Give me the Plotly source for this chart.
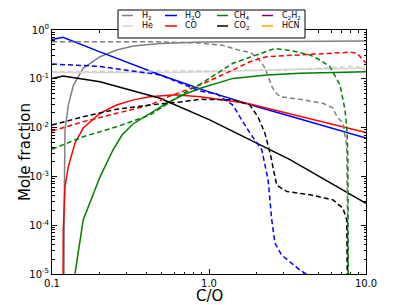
import plotly.graph_objects as go

# ---------------- data ----------------
h2_co = [0.1185, 0.1187, 0.1197, 0.121, 0.127, 0.137, 0.158, 0.202, 0.258, 0.33, 0.487, 0.88, 10]
h2_y = [1e-7, 1e-5, 3.3e-4, 0.0089, 0.029, 0.0746, 0.164, 0.284, 0.389, 0.47, 0.53, 0.57, 0.595]

h2d_co = [0.1, 0.453, 0.88, 1.21, 1.53, 1.82, 2.05, 2.24, 2.38, 2.48, 2.63, 2.83, 3.80, 5.32, 6.17, 6.53, 7.14, 7.35, 7.54, 7.7, 7.75]
h2d_y = [0.575, 0.575, 0.54, 0.49, 0.39, 0.35, 0.263, 0.18, 0.114, 0.075, 0.054, 0.043, 0.038, 0.0315, 0.025, 0.0167, 0.0123, 0.0065, 0.0041, 1e-5, 1e-7]

he_co = [0.1, 0.5, 1, 3, 10]
he_y = [0.135, 0.135, 0.14, 0.155, 0.165]
hed_co = [0.1, 1, 3, 5, 8, 9, 10]
hed_y = [0.14, 0.145, 0.15, 0.165, 0.18, 0.175, 0.15]

h2o_co = [0.1, 0.1175, 0.2, 0.49, 1.0, 2.0, 3.8, 10]
h2o_y = [0.64, 0.71, 0.36, 0.12, 0.054, 0.027, 0.015, 0.0061]
h2od_co = [0.1, 0.2, 0.49, 0.88, 1.12, 1.42, 1.57, 1.82, 2.17, 2.38, 2.51, 2.63, 2.90, 3.80, 4.40, 5.0]
h2od_y = [0.2, 0.18, 0.12, 0.056, 0.049, 0.029, 0.0167, 0.0078, 0.0035, 8.4e-4, 1.28e-4, 4.3e-5, 2.45e-5, 1.2e-5, 9e-6, 6e-6]

co_co = [0.1168, 0.117, 0.118, 0.121, 0.127, 0.140, 0.158, 0.202, 0.258, 0.33, 0.42, 0.607, 0.877, 1.74, 10]
co_y = [1e-7, 1e-5, 8e-5, 6.2e-4, 1.58e-3, 4.8e-3, 0.0098, 0.0196, 0.029, 0.037, 0.043, 0.047, 0.043, 0.0315, 0.0079]
cod_co = [0.1, 0.158, 0.258, 0.42, 0.58, 0.88, 1.42, 1.82, 2.33, 3.80, 6.17, 7.9, 8.77, 9.86, 10]
cod_y = [0.0085, 0.0132, 0.0196, 0.029, 0.046, 0.075, 0.151, 0.224, 0.284, 0.31, 0.333, 0.35, 0.333, 0.224, 0.21]

ch4_co = [0.139, 0.140, 0.158, 0.202, 0.2446, 0.2792, 0.328, 0.42, 0.538, 0.686, 0.88, 1.42, 2.33, 3.8, 10]
ch4_y = [1e-7, 1e-5, 1.28e-4, 9.7e-4, 3.47e-3, 7.05e-3, 0.01186, 0.0196, 0.0316, 0.047, 0.064, 0.102, 0.12, 0.13, 0.14]
ch4d_co = [0.1, 0.158, 0.258, 0.42, 0.686, 0.88, 1.42, 1.82, 2.18, 2.63, 3.43, 4.40, 5.09, 5.90, 6.83, 7.35, 7.57, 7.67, 7.74, 7.75]
ch4d_y = [0.0036, 0.0065, 0.0104, 0.018, 0.05, 0.078, 0.208, 0.28, 0.338, 0.418, 0.371, 0.307, 0.243, 0.177, 0.0746, 0.023, 0.0089, 0.0022, 1e-5, 1e-7]

co2_co = [0.1, 0.1175, 0.202, 0.314, 0.487, 1.01, 1.36, 3.28, 10]
co2_y = [0.101, 0.114, 0.087, 0.059, 0.040, 0.0144, 0.0089, 0.0022, 2.8e-4]
co2d_co = [0.1, 0.158, 0.258, 0.42, 0.68, 0.88, 1.42, 1.82, 2.05, 2.27, 2.45, 2.70, 3.13, 4.40, 6.17, 7.14, 7.54, 7.67, 7.70]
co2d_y = [0.0113, 0.0167, 0.0237, 0.029, 0.034, 0.038, 0.037, 0.029, 0.0167, 0.0077, 0.003, 6.6e-4, 4.9e-4, 4.2e-4, 3.3e-4, 2.2e-4, 1.28e-4, 1.2e-5, 1e-7]

species = ["H<sub>2</sub>", "He", "H<sub>2</sub>O", "CO", "CH<sub>4</sub>", "CO<sub>2</sub>", "C<sub>2</sub>H<sub>2</sub>", "HCN"]
colors = ["#808080", "#d3d3d3", "#0000ff", "#ff0000", "#008000", "#000000", "#800080", "#ffa500"]

solid = [(h2_co, h2_y), (he_co, he_y), (h2o_co, h2o_y), (co_co, co_y), (ch4_co, ch4_y), (co2_co, co2_y), ([], []), ([], [])]
dashed = [(h2d_co, h2d_y), (hed_co, hed_y), (h2od_co, h2od_y), (cod_co, cod_y), (ch4d_co, ch4d_y), (co2d_co, co2d_y), ([], []), ([], [])]

ytickvals = [1, 0.1, 0.01, 1e-3, 1e-4, 1e-5]
yticktext = ["10<sup>0</sup>", "10<sup>-1</sup>", "10<sup>-2</sup>", "10<sup>-3</sup>", "10<sup>-4</sup>", "10<sup>-5</sup>"]
xtickvals = [0.1, 1, 10]
xticktext = ["0.1", "1.0", "10.0"]

# ---------------- figure ----------------
fig = go.Figure()
for (x, y), c in zip(solid, colors):
    fig.add_trace(go.Scatter(x=x, y=y, mode="lines", line=dict(color=c, width=1.5), showlegend=False))
for (x, y), c in zip(dashed, colors):
    fig.add_trace(go.Scatter(x=x, y=y, mode="lines", line=dict(color=c, width=1.5, dash="5px,3px"), showlegend=False))

W, H = 407, 305
L, R, T, B = 52, 41, 30, 31
pw, ph = W - L - R, H - T - B
px = lambda p: (p - L) / pw
py = lambda p: (H - B - p) / ph

xminor = [m * 10 ** e for e in (-1, 0) for m in range(2, 10)]
yminor = [m * 10 ** e for e in (-5, -4, -3, -2, -1) for m in range(2, 10)]

axis_common = dict(showgrid=False, zeroline=False, showline=True, linecolor="black", linewidth=1,
                   mirror="ticks", ticks="inside", ticklen=5, tickcolor="black", automargin=False,
                   tickfont=dict(size=10, color="black"))
fig.update_xaxes(type="log", range=[-1, 1], tickvals=xtickvals, ticktext=xticktext,
                 minor=dict(tickvals=xminor, ticks="inside", ticklen=2.5, tickcolor="black"), **axis_common)
fig.update_yaxes(type="log", range=[-5, 0], tickvals=ytickvals, ticktext=yticktext,
                 minor=dict(tickvals=yminor, ticks="inside", ticklen=2.5, tickcolor="black"), **axis_common)

shapes = [dict(type="rect", xref="paper", yref="paper", x0=px(118), x1=px(305), y0=py(38), y1=py(10),
               line=dict(color="black", width=1), fillcolor="white", layer="above")]
annotations = []
col_line = [(122, 133), (165, 177), (217, 228), (262, 273)]
col_text = [140, 183, 232, 280]
row_y = [15.5, 26]
for i, (name, c) in enumerate(zip(species, colors)):
    col, row = i // 2, i % 2
    shapes.append(dict(type="line", xref="paper", yref="paper", x0=px(col_line[col][0]), x1=px(col_line[col][1]),
                       y0=py(row_y[row]), y1=py(row_y[row]), line=dict(color=c, width=1.5), layer="above"))
    annotations.append(dict(xref="paper", yref="paper", x=px(col_text[col]), y=py(row_y[row]), text=name,
                            showarrow=False, xanchor="left", yanchor="middle", font=dict(size=8, color="black")))

annotations.append(dict(xref="paper", yref="paper", x=0.5, y=py(296), text="C/O", showarrow=False,
                        xanchor="center", yanchor="middle", font=dict(size=15, color="black")))
annotations.append(dict(xref="paper", yref="paper", x=px(25), y=0.5, text="Mole fraction", showarrow=False,
                        textangle=-90, xanchor="center", yanchor="middle", font=dict(size=15, color="black")))

fig.update_layout(width=W, height=H, margin=dict(l=L, r=R, t=T, b=B), plot_bgcolor="white", paper_bgcolor="white",
                  font=dict(family="DejaVu Sans", color="black"), shapes=shapes, annotations=annotations,
                  showlegend=False)

fig.write_html("out.html", config={"displayModeBar": False},
               post_script="document.body.style.margin='0px';document.body.style.overflow='hidden';")
